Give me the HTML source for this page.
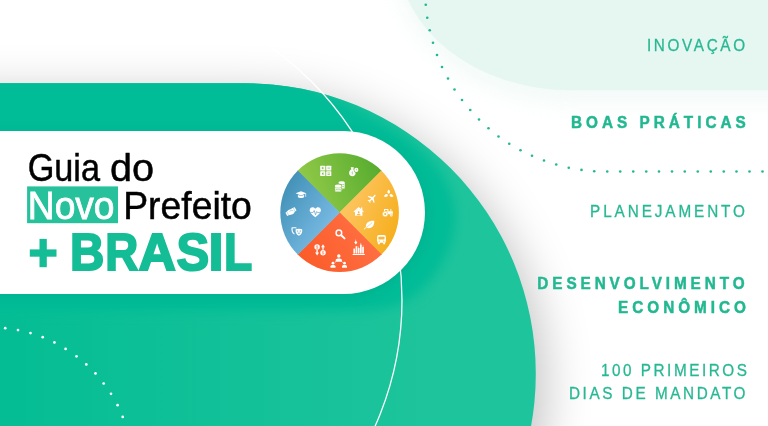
<!DOCTYPE html>
<html lang="pt-BR">
<head>
<meta charset="utf-8">
<title>Guia do Novo Prefeito + Brasil</title>
<style>
  html, body { margin: 0; padding: 0; background: #ffffff; }
  body { width: 768px; height: 426px; overflow: hidden; position: relative;
         font-family: "Liberation Sans", sans-serif; }
  svg { position: absolute; left: 0; top: 0; display: block; }
  text { font-family: "Liberation Sans", sans-serif; }
  .menu { fill: #2bb894; font-size: 15.5px; }
  .menu.b { font-weight: bold; fill: #27b590; }
</style>
</head>
<body>
<svg width="768" height="426" viewBox="0 0 768 426">
  <defs>
    <filter id="shBig" x="-30%" y="-30%" width="160%" height="160%">
      <feGaussianBlur stdDeviation="25"/>
    </filter>
    <filter id="shPill" x="-20%" y="-40%" width="140%" height="180%">
      <feGaussianBlur stdDeviation="7"/>
    </filter>
    <filter id="shBlob" x="-30%" y="-30%" width="160%" height="160%">
      <feGaussianBlur stdDeviation="12"/>
    </filter>
    <linearGradient id="gInner" x1="0" y1="83" x2="0" y2="340" gradientUnits="userSpaceOnUse">
      <stop offset="0" stop-color="#00bb97"/>
      <stop offset="0.45" stop-color="#08bd98"/>
      <stop offset="1" stop-color="#1fc49b"/>
    </linearGradient>
    <linearGradient id="gTop" x1="300" y1="200" x2="385" y2="165" gradientUnits="userSpaceOnUse">
      <stop offset="0" stop-color="#98cc4b"/>
      <stop offset="1" stop-color="#52aa2d"/>
    </linearGradient>
    <linearGradient id="gRight" x1="345" y1="212" x2="400" y2="235" gradientUnits="userSpaceOnUse">
      <stop offset="0" stop-color="#fdc45e"/>
      <stop offset="1" stop-color="#f5ad18"/>
    </linearGradient>
    <linearGradient id="gBottom" x1="300" y1="270" x2="375" y2="225" gradientUnits="userSpaceOnUse">
      <stop offset="0" stop-color="#fb5a27"/>
      <stop offset="1" stop-color="#ff7145"/>
    </linearGradient>
    <linearGradient id="gLeft" x1="285" y1="190" x2="338" y2="225" gradientUnits="userSpaceOnUse">
      <stop offset="0" stop-color="#4593ba"/>
      <stop offset="1" stop-color="#7cbde6"/>
    </linearGradient>
    <linearGradient id="gBase" x1="0" y1="0" x2="440" y2="0" gradientUnits="userSpaceOnUse">
      <stop offset="0" stop-color="#04bd94"/>
      <stop offset="1" stop-color="#1ec49c"/>
    </linearGradient>
    <clipPath id="bigClip"><path d="M-60,83.25 H245.3 A290.5,290.5 0 0 1 245.3,664.25 H-60 Z"/></clipPath>
    <filter id="shHalo" x="-20%" y="-40%" width="140%" height="180%">
      <feGaussianBlur stdDeviation="6"/>
    </filter>
    <linearGradient id="gBand" x1="330" y1="0" x2="420" y2="0" gradientUnits="userSpaceOnUse">
      <stop offset="0" stop-color="#00bb97" stop-opacity="1"/>
      <stop offset="1" stop-color="#00bb97" stop-opacity="0"/>
    </linearGradient>
    <clipPath id="pieClip"><circle cx="339.6" cy="212.6" r="59.3"/></clipPath>
  </defs>

  <!-- background -->
  <rect x="0" y="0" width="768" height="426" fill="#ffffff"/>

  <!-- mint blob top right -->
  <path d="M398.1,-60 V-45.6 A173.4,135.9 0 0 0 571.5,90.3 H800 V-60 Z" fill="#cfeee5" opacity="0.30" filter="url(#shBlob)" transform="translate(0,10)"/>
  <path d="M398.1,-60 V-45.6 A173.4,135.9 0 0 0 571.5,90.3 H800 V-60 Z" fill="#e6f6f1"/>

  <!-- green dotted arc -->
  <g id="gdots" fill="#22b891"><circle cx="425.75" cy="4.75" r="1.3"/><circle cx="427.25" cy="17.75" r="1.3"/><circle cx="429.75" cy="30.25" r="1.3"/><circle cx="433" cy="42.75" r="1.3"/><circle cx="437" cy="55" r="1.3"/><circle cx="442" cy="67" r="1.3"/><circle cx="448" cy="78.5" r="1.3"/><circle cx="454.5" cy="89.5" r="1.3"/><circle cx="462" cy="100" r="1.3"/><circle cx="470.25" cy="110" r="1.3"/><circle cx="479" cy="119.5" r="1.3"/><circle cx="488.5" cy="128.25" r="1.3"/><circle cx="498.5" cy="136.5" r="1.3"/><circle cx="509.25" cy="143.75" r="1.3"/><circle cx="520.5" cy="150.25" r="1.3"/><circle cx="532" cy="155.75" r="1.3"/><circle cx="544" cy="160.5" r="1.3"/><circle cx="556.25" cy="164.5" r="1.3"/><circle cx="568.75" cy="167.75" r="1.3"/><circle cx="581.5" cy="169.9" r="1.3"/><circle cx="594.25" cy="171.2" r="1.3"/><circle cx="607.25" cy="171.5" r="1.3"/><circle cx="620.25" cy="171.5" r="1.3"/><circle cx="633.25" cy="171.5" r="1.3"/><circle cx="646.25" cy="171.5" r="1.3"/><circle cx="659" cy="171.5" r="1.3"/><circle cx="672" cy="171.5" r="1.3"/><circle cx="684.75" cy="171.5" r="1.3"/><circle cx="697.75" cy="171.5" r="1.3"/><circle cx="710.75" cy="171.5" r="1.3"/><circle cx="723.75" cy="171.5" r="1.3"/><circle cx="736.5" cy="171.5" r="1.3"/><circle cx="749.5" cy="171.5" r="1.3"/><circle cx="762.5" cy="171.5" r="1.3"/></g>

  <!-- big green shape: shadow, base, dark overlays -->
  <path d="M-60,83.25 H245.3 A290.5,290.5 0 0 1 245.3,664.25 H-60 Z" fill="#000" opacity="0.25" filter="url(#shBig)" transform="translate(7,12)"/>
  <path d="M-60,83.25 H245.3 A290.5,290.5 0 0 1 245.3,664.25 H-60 Z" fill="url(#gBase)"/>
  <g clip-path="url(#bigClip)">
    <path d="M-60,60 L250,60 C261.7,65.3 301.2,83.3 320,92 C338.8,100.7 349.7,105.2 363,112 C376.3,118.8 389.7,126.0 400,133 C410.3,140.0 417.8,146.8 425,154 C432.2,161.2 438.3,168.3 443,176 C447.7,183.7 451.0,192.3 453,200 C455.0,207.7 455.5,214.3 455,222 C454.5,229.7 452.8,238.0 450,246 C447.2,254.0 443.0,262.5 438,270 C433.0,277.5 427.2,285.0 420,291 C412.8,297.0 405.0,302.7 395,306 C385.0,309.3 375.8,310.2 360,311 C344.2,311.8 310.0,311.0 300,311 L-60,311 Z" fill="#00bc97" filter="url(#shHalo)"/>
  </g>

  <!-- thin white circle -->
  <circle cx="93" cy="300" r="309" fill="none" stroke="#ffffff" stroke-width="1.3"/>

  <!-- white dotted arc bottom-left -->
  <g id="wdots" fill="#ffffff"><circle cx="5.2" cy="328.2" r="1.35"/><circle cx="18" cy="330.1" r="1.35"/><circle cx="30.5" cy="333.1" r="1.35"/><circle cx="42.7" cy="337.2" r="1.35"/><circle cx="54.4" cy="342.4" r="1.35"/><circle cx="65.6" cy="348.9" r="1.35"/><circle cx="76.5" cy="356.3" r="1.35"/><circle cx="86.3" cy="364.4" r="1.35"/><circle cx="95.5" cy="373.4" r="1.35"/><circle cx="103.7" cy="383.5" r="1.35"/><circle cx="111" cy="393.8" r="1.35"/><circle cx="117.6" cy="405.2" r="1.35"/><circle cx="122.7" cy="416.9" r="1.35"/></g>

  <!-- pill -->
  <path d="M-40,131 H343.5 A81.5,81.5 0 0 1 343.5,294 H-40 Z" fill="#004d3c" opacity="0.10" filter="url(#shPill)" transform="translate(0,2)"/>
  <path d="M-40,131 H343.5 A81.5,81.5 0 0 1 343.5,294 H-40 Z" fill="#ffffff"/>

  <!-- pie -->
  <g clip-path="url(#pieClip)">
    <path d="M339.6,212.6 L269.3,142.3 H409.9 Z" fill="url(#gTop)" stroke="url(#gTop)" stroke-width="0.6"/>
    <path d="M339.6,212.6 L409.9,142.3 V282.9 Z" fill="url(#gRight)" stroke="url(#gRight)" stroke-width="0.6"/>
    <path d="M339.6,212.6 L409.9,282.9 H269.3 Z" fill="url(#gBottom)" stroke="url(#gBottom)" stroke-width="0.6"/>
    <path d="M339.6,212.6 L269.3,282.9 V142.3 Z" fill="url(#gLeft)" stroke="url(#gLeft)" stroke-width="0.6"/>
  </g>
  <g id="icons" fill="#ffffff" stroke="none">
<g id="i-grid"><rect x="320.2" y="165.7" width="5.1" height="4.7" rx="0.5"/><rect x="326.2" y="165.7" width="5.1" height="4.7" rx="0.5"/><rect x="320.2" y="171.3" width="5.1" height="4.7" rx="0.5"/><rect x="326.2" y="171.3" width="5.1" height="4.7" rx="0.5"/>
<g fill="#72b63a"><rect x="321.6" y="167.7" width="2.3" height="0.7"/><rect x="322.4" y="166.9" width="0.7" height="2.3"/><rect x="327.5" y="167.7" width="2.5" height="0.7"/><rect x="321.6" y="173.3" width="2.3" height="0.7" transform="rotate(45 322.75 173.65)"/><rect x="321.6" y="173.3" width="2.3" height="0.7" transform="rotate(-45 322.75 173.65)"/><rect x="327.5" y="172.7" width="2.5" height="0.6"/><rect x="327.5" y="174.0" width="2.5" height="0.6"/></g></g>
<g id="i-bag"><path d="M350.7,167.2 L353.9,167.2 L353.3,169.5 L351.4,169.5 Z"/><path d="M351.3,169.2 H353.4 C356.4,170.6 356.6,176.2 352.35,176.2 C348.1,176.2 348.3,170.6 351.3,169.2 Z"/><circle cx="356.3" cy="169.9" r="2.55" fill="#72b63a"/><circle cx="356.3" cy="169.9" r="2.05"/><path d="M356.3,168.7 V170.0 H357.2" fill="none" stroke="#72b63a" stroke-width="0.5"/><path d="M352.35,171.4 V174.6 M353.0,172.1 C352.4,171.7 351.7,172.0 351.8,172.5 C352.0,173.1 353.0,172.9 353.0,173.5 C353.0,174.1 352.2,174.2 351.7,173.9" fill="none" stroke="#72b63a" stroke-width="0.38" opacity="0.85"/></g>
<g id="i-coins"><path d="M338.59999999999997,182.4 A3.1,1.25 0 0 1 344.8,182.4 V188.1 A3.1,1.25 0 0 1 338.59999999999997,188.1 Z"/><path d="M338.59999999999997,183.58 A3.1,1.25 0 0 0 344.8,183.58" fill="none" stroke="#72b63a" stroke-width="0.5"/><path d="M338.59999999999997,185.48 A3.1,1.25 0 0 0 344.8,185.48" fill="none" stroke="#72b63a" stroke-width="0.5"/><path d="M338.59999999999997,187.38 A3.1,1.25 0 0 0 344.8,187.38" fill="none" stroke="#72b63a" stroke-width="0.5"/><path d="M334.4,185.4 A3.8,1.9 0 0 1 342.0,185.4 V190.5 H334.4 Z" fill="#72b63a"/><path d="M334.9,185.7 A3.3,1.3 0 0 1 341.5,185.7 V190.79999999999998 A3.3,1.3 0 0 1 334.9,190.79999999999998 Z"/><path d="M334.9,186.75 A3.3,1.3 0 0 0 341.5,186.75" fill="none" stroke="#72b63a" stroke-width="0.5"/><path d="M334.9,188.45 A3.3,1.3 0 0 0 341.5,188.45" fill="none" stroke="#72b63a" stroke-width="0.5"/><path d="M334.9,190.15 A3.3,1.3 0 0 0 341.5,190.15" fill="none" stroke="#72b63a" stroke-width="0.5"/></g>
<g id="i-plane" transform="translate(372.1,198.4) rotate(45) scale(0.47) translate(-11.5,-12)"><path d="M21 16v-2l-8-5V3.5c0-.83-.67-1.5-1.5-1.5S10 2.67 10 3.5V9l-8 5v2l8-2.5V19l-2 1.5V22l3.5-1 3.5 1v-1.5L13 19v-5.5l8 2.5z"/></g>
<g id="i-trefoil"><path transform="translate(388.7,192.0)" d="M0,-2.6 C1.7,-1.0 1.9,0.9 0,1.7 C-1.9,0.9 -1.7,-1.0 0,-2.6 Z"/><path transform="translate(386.3,195.4) rotate(-115)" d="M0,-2.6 C1.7,-1.0 1.9,0.9 0,1.7 C-1.9,0.9 -1.7,-1.0 0,-2.6 Z"/><path transform="translate(391.1,195.4) rotate(115)" d="M0,-2.6 C1.7,-1.0 1.9,0.9 0,1.7 C-1.9,0.9 -1.7,-1.0 0,-2.6 Z"/></g>
<g id="i-house"><path d="M353.6,211.4 L358.7,207.1 L363.8,211.4 L363.0,212.2 L358.7,208.7 L354.4,212.2 Z"/><rect x="361.0" y="207.5" width="1.3" height="2.6"/><path d="M355.0,211.6 L358.7,208.7 L362.4,211.6 V215.8 H355.0 Z"/><circle cx="358.7" cy="212.2" r="0.95" fill="#f9b83a"/><path d="M356.8,215.2 C356.8,213.2 360.6,213.2 360.6,215.2 Z" fill="#f9b83a"/></g>
<g id="i-tractor"><path d="M384.0,209.0 H388.4 V211.2 H392.8 V214.2 H384.0 Z"/><rect x="385.0" y="209.9" width="2.4" height="1.7" fill="#f9b83a"/><rect x="390.4" y="208.9" width="0.9" height="2.4"/><circle cx="385.2" cy="214.0" r="2.75" stroke="#f9b83a" stroke-width="0.5"/><circle cx="385.2" cy="214.0" r="1.05" fill="#f9b83a"/><circle cx="391.3" cy="215.1" r="1.55" stroke="#f9b83a" stroke-width="0.4"/><circle cx="391.3" cy="215.1" r="0.55" fill="#f9b83a"/></g>
<g id="i-leaf"><path d="M366.1,227.6 C364.9,222.6 369.3,220.3 374.2,220.7 C374.7,225.6 371.6,229.6 366.1,227.6 Z"/><path d="M364.2,229.0 L366.6,227.0" stroke="#ffffff" stroke-width="0.9" stroke-linecap="round"/><path d="M366.4,227.3 C368.5,225.8 370.5,224.2 372.3,222.4" fill="none" stroke="#f9b83a" stroke-width="0.55"/></g>
<g id="i-bus"><rect x="377.1" y="235.1" width="8.8" height="7.7" rx="1.9"/><rect x="377.9" y="242.2" width="1.9" height="2.1" rx="0.4"/><rect x="383.2" y="242.2" width="1.9" height="2.1" rx="0.4"/><rect x="378.5" y="236.7" width="6.0" height="2.9" rx="0.5" fill="#f9b83a"/><circle cx="379.2" cy="241.2" r="0.6" fill="#f9b83a"/><circle cx="383.8" cy="241.2" r="0.6" fill="#f9b83a"/></g>
<g id="i-mag" fill="none" stroke="#ffffff"><circle cx="338.9" cy="232.9" r="2.8" stroke-width="1.5"/><path d="M341.5,235.5 L344.5,238.4" stroke-width="2.0" stroke-linecap="round"/></g>
<g id="i-exch"><circle cx="317.1" cy="247.1" r="2.75"/><path d="M318.0,246.2 C317.20000000000005,245.6 316.1,246.0 316.3,246.7 C316.5,247.29999999999998 317.90000000000003,247.1 317.90000000000003,247.79999999999998 C317.90000000000003,248.5 316.8,248.6 316.20000000000005,248.0 M317.1,245.2 V249.0" fill="none" stroke="#fb6434" stroke-width="0.4"/><circle cx="323.0" cy="252.7" r="2.75"/><path d="M323.9,251.79999999999998 C323.1,251.2 322.0,251.6 322.2,252.29999999999998 C322.4,252.89999999999998 323.8,252.7 323.8,253.39999999999998 C323.8,254.1 322.7,254.2 322.1,253.6 M323.0,250.79999999999998 V254.6" fill="none" stroke="#fb6434" stroke-width="0.4"/><path d="M323.0,244.3 L325.0,247.3 H323.7 V249.7 H322.3 V247.3 H321.0 Z"/><path d="M317.1,255.5 L319.1,252.5 H317.8 V250.1 H316.4 V252.5 H315.1 Z"/></g>
<g id="i-city"><rect x="352.6" y="254.0" width="12.2" height="1.0"/><rect x="353.4" y="248.6" width="1.7" height="4.9"/><rect x="355.6" y="246.2" width="1.7" height="7.3"/><rect x="357.8" y="248.0" width="1.7" height="5.5"/><rect x="360.0" y="244.6" width="1.7" height="8.9"/><rect x="362.2" y="247.0" width="1.7" height="6.5"/><path d="M355.8,240.6 L357.3,242.4 L355.8,244.6 L354.3,242.4 Z"/><rect x="355.55" y="239.6" width="0.5" height="1.2"/><rect x="360.6" y="242.9" width="0.5" height="1.9"/><rect x="358.4" y="246.6" width="0.5" height="1.6"/><rect x="362.8" y="245.4" width="0.5" height="1.8"/></g>
<g id="i-people"><circle cx="338.8" cy="256.1" r="1.74"/><path d="M335.68,261.74 V259.94 C335.68,257.90 341.92,257.90 341.92,259.94 V261.74 Z"/><circle cx="333.0" cy="263.2" r="1.38"/><path d="M330.53,267.66 V266.24 C330.53,264.62 335.47,264.62 335.47,266.24 V267.66 Z"/><circle cx="344.5" cy="263.2" r="1.38"/><path d="M342.03,267.66 V266.24 C342.03,264.62 346.97,264.62 346.97,266.24 V267.66 Z"/><path d="M336.0,261.6 L334.8,262.4 M341.6,261.6 L342.8,262.4" stroke="#ffffff" stroke-width="0.7" fill="none"/></g>
<g id="i-cap"><path d="M295.6,193.3 L301.0,191.2 L306.4,193.3 L301.0,195.4 Z"/><path d="M297.9,194.9 L301.0,196.1 L304.1,194.9 V197.0 C303.0,198.4 299.0,198.4 297.9,197.0 Z"/><path d="M305.7,193.6 V196.8" stroke="#ffffff" stroke-width="0.7" fill="none"/></g>
<g id="i-hands" transform="translate(291.0,211.7) rotate(-27)"><path d="M-5.4,-1.6 L-3.6,-2.0 L-1.4,-2.7 L0.6,-2.4 L3.6,-2.5 L5.4,-2.3 V1.5 L3.6,1.6 L1.9,2.7 C0.9,3.3 -0.6,3.1 -1.6,2.5 L-3.6,2.1 L-5.4,2.2 Z"/><path d="M-3.75,-1.9 V2.0 M3.75,-2.3 V1.5" stroke="#5aa2cc" stroke-width="0.35" fill="none"/><path d="M-1.2,-0.6 L0.7,-1.4 L2.4,0.2" stroke="#5aa2cc" stroke-width="0.4" fill="none"/></g>
<g id="i-heart"><path d="M315.3,217.2 C313.0,215.3 309.7,212.9 309.7,210.2 C309.7,208.5 311.0,207.3 312.6,207.3 C313.7,207.3 314.7,207.9 315.3,208.8 C315.9,207.9 316.9,207.3 318.0,207.3 C319.6,207.3 320.9,208.5 320.9,210.2 C320.9,212.9 317.6,215.3 315.3,217.2 Z"/><path d="M309.9,212.4 H313.2 L314.2,210.5 L315.5,214.8 L316.7,211.5 L317.4,212.4 H320.7" fill="none" stroke="#5aa2cc" stroke-width="0.7" stroke-linejoin="round"/></g>
<g id="i-masks"><path d="M291.5,227.6 C293.0,227.0 295.0,227.0 296.6,227.5 L296.4,228.6 C295.0,228.2 293.6,228.2 292.6,228.5 C292.5,230.6 292.9,232.4 294.6,233.6 L294.3,234.6 C291.6,233.2 291.2,230.3 291.5,227.6 Z"/><path d="M295.6,229.2 C297.6,228.4 300.2,228.5 302.2,229.3 C302.5,232.3 301.6,234.7 298.9,235.7 C296.2,234.7 295.3,232.2 295.6,229.2 Z"/><g fill="#5aa2cc"><ellipse cx="297.5" cy="231.0" rx="0.75" ry="0.5"/><ellipse cx="300.3" cy="231.0" rx="0.75" ry="0.5"/><path d="M297.3,232.8 C298.2,234.1 299.6,234.1 300.5,232.8 Z"/><ellipse cx="293.4" cy="230.0" rx="0.55" ry="0.4"/></g></g>
  </g>

  <!-- title text -->
  <g opacity="0.999">
  <text transform="translate(70.12,270.2) scale(0.9092,1)" font-size="52.3" font-weight="bold" fill="#14bd96" stroke="#14bd96" stroke-width="2.0" stroke-linejoin="miter">B</text>
  <text transform="translate(105.34,270.2) scale(0.8735,1)" font-size="52.3" font-weight="bold" fill="#14bd96" stroke="#14bd96" stroke-width="2.0" stroke-linejoin="miter">R</text>
  <text transform="translate(138.51,270.2) scale(0.9889,1)" font-size="52.3" font-weight="bold" fill="#14bd96" stroke="#14bd96" stroke-width="2.0" stroke-linejoin="miter">A</text>
  <text transform="translate(176.39,270.2) scale(0.9383,1)" font-size="52.3" font-weight="bold" fill="#14bd96" stroke="#14bd96" stroke-width="2.0" stroke-linejoin="miter">S</text>
  <text transform="translate(208.48,270.2) scale(1.0354,1)" font-size="52.3" font-weight="bold" fill="#14bd96" stroke="#14bd96" stroke-width="2.0" stroke-linejoin="miter">I</text>
  <text transform="translate(224.01,270.2) scale(0.8830,1)" font-size="52.3" font-weight="bold" fill="#14bd96" stroke="#14bd96" stroke-width="2.0" stroke-linejoin="miter">L</text>
  <text transform="translate(27.63,180.5) scale(0.8963,1)" font-size="38.2" fill="#000000" stroke="#000000" stroke-width="0.5">Guia</text>
  <text transform="translate(110.09,180.5) scale(1.0361,1)" font-size="38.2" fill="#000000" stroke="#000000" stroke-width="0.5">do</text>
  <rect x="27.1" y="186.4" width="90.9" height="36.8" fill="#27c19b"/>
  <text transform="translate(27.85,218.9) scale(0.9723,1)" font-size="38.2" fill="#ffffff" stroke="#ffffff" stroke-width="0.8">Novo</text>
  <text transform="translate(123.19,219.1) scale(0.9779,1)" font-size="38.2" fill="#000000" stroke="#000000" stroke-width="0.5">Prefeito</text>
  <rect x="29.8" y="249.4" width="26.7" height="7.3" fill="#14bd96"/><rect x="39.5" y="238.9" width="7.3" height="28.3" fill="#14bd96"/>
  </g>

  <!-- menu text -->
  <g opacity="0.999">
  <text transform="translate(646.94,50.8) scale(0.9,1)" font-size="17.0" fill="#27b893" stroke="#27b893" stroke-width="0.3" letter-spacing="2.949">INOVAÇÃO</text>
  <text transform="translate(570.93,128.3) scale(0.9,1)" font-size="17.0" font-weight="bold" fill="#22b891" stroke="#22b891" stroke-width="0.5" letter-spacing="4.469">BOAS PRÁTICAS</text>
  <text transform="translate(590.09,216.5) scale(0.9,1)" font-size="17.0" fill="#27b893" stroke="#27b893" stroke-width="0.3" letter-spacing="3.234">PLANEJAMENTO</text>
  <text transform="translate(537.33,288.75) scale(0.9,1)" font-size="17.0" font-weight="bold" fill="#22b891" stroke="#22b891" stroke-width="0.5" letter-spacing="4.357">DESENVOLVIMENTO</text>
  <text transform="translate(617.98,312.7) scale(0.9,1)" font-size="17.0" font-weight="bold" fill="#22b891" stroke="#22b891" stroke-width="0.5" letter-spacing="4.453">ECONÔMICO</text>
  <text transform="translate(600.98,375.7) scale(0.9,1)" font-size="17.0" fill="#27b893" stroke="#27b893" stroke-width="0.3" letter-spacing="2.808">100 PRIMEIROS</text>
  <text transform="translate(568.99,399.3) scale(0.9,1)" font-size="17.0" fill="#27b893" stroke="#27b893" stroke-width="0.3" letter-spacing="2.859">DIAS DE MANDATO</text>
  </g>
</svg>
</body>
</html>
